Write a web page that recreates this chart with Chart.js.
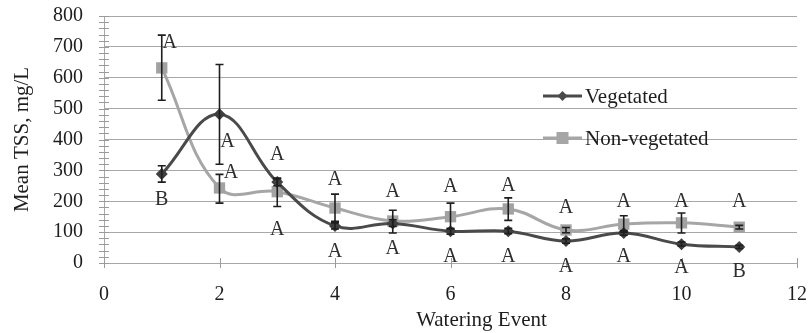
<!DOCTYPE html>
<html>
<head>
<meta charset="utf-8">
<script src="https://cdn.jsdelivr.net/npm/chart.js@4/dist/chart.umd.min.js"></script>
<style>
  html, body { margin: 0; padding: 0; background: #ffffff; }
  #wrap { width: 809px; height: 333px; position: relative; }
</style>
</head>
<body>
<div id="wrap"><canvas id="c" width="809" height="333"></canvas></div>
<script>
// ---- data ----
const events = [1, 2, 3, 4, 5, 6, 7, 8, 9, 10, 11];
const vegetated = [288, 482, 262, 120, 128, 103, 103, 71, 97, 61, 52];
const vegLow    = [262, 320, 250, 110, 118, 93, 95, 64, 90, 55, 47];
const vegHigh   = [315, 643, 272, 130, 140, 112, 112, 78, 105, 68, 57];
const nonVegetated = [632, 243, 231, 178, 136, 150, 175, 107, 126, 130, 116];
const nonLow    = [527, 194, 183, 135, 97, 110, 138, 98, 100, 97, 110];
const nonHigh   = [738, 287, 275, 223, 171, 194, 211, 115, 153, 162, 122];
const yTickValues = [0, 100, 200, 300, 400, 500, 600, 700, 800];
const xTickValues = [0, 2, 4, 6, 8, 10, 12];
const letterX = [1.14, 1, 2.14, 2.2, 3, 3, 4, 4, 5, 5, 6, 6, 7, 7, 8, 8, 9, 9, 10, 10, 11, 11];
const letterY = [712, 204, 392, 291, 349, 107, 271, 37, 231, 45, 246, 20, 249, 20, 178, -12, 197, 20, 197, -16, 197, -28];
const letterText = ['A','B','A','A','A','A','A','A','A','A','A','A','A','A','A','A','A','A','A','A','A','B'];
const seriesNames = ['Vegetated', 'Non-vegetated'];
const xTitle = 'Watering Event';
const yTitle = 'Mean TSS, mg/L';

const SERIF = "'Liberation Serif', 'Times New Roman', serif";
const VEG_COLOR = '#4a4a4a';
const NON_COLOR = '#a6a6a6';
const GRID = '#a8a8a8';

function zeroPadding(scale) {
  scale.paddingLeft = 0; scale.paddingRight = 0;
  scale.paddingTop = 0; scale.paddingBottom = 0;
}

const errorBars = {
  id: 'errorBars',
  afterDatasetsDraw(chart) {
    const ctx = chart.ctx;
    const xs = chart.scales.x, ys = chart.scales.y;
    const sets = [[vegLow, vegHigh], [nonLow, nonHigh]];
    ctx.save();
    ctx.strokeStyle = '#1e1e1e';
    ctx.lineWidth = 1.6;
    sets.forEach(([lo, hi]) => {
      events.forEach((e, i) => {
        const px = xs.getPixelForValue(e);
        const y1 = ys.getPixelForValue(lo[i]);
        const y2 = ys.getPixelForValue(hi[i]);
        ctx.beginPath();
        ctx.moveTo(px, y1); ctx.lineTo(px, y2);
        ctx.moveTo(px - 4, y1); ctx.lineTo(px + 4, y1);
        ctx.moveTo(px - 4, y2); ctx.lineTo(px + 4, y2);
        ctx.stroke();
      });
    });
    ctx.restore();
  }
};

const extras = {
  id: 'extras',
  afterDraw(chart) {
    const ctx = chart.ctx;
    const xs = chart.scales.x, ys = chart.scales.y;
    const area = chart.chartArea;
    ctx.save();
    // axis tick marks (major + minor)
    ctx.strokeStyle = '#9a9a9a';
    ctx.lineWidth = 1;
    ctx.beginPath();
    for (let v = 0; v <= 800; v += 20) {
      const py = Math.round(ys.getPixelForValue(v)) + 0.5;
      ctx.moveTo(area.left - 5, py); ctx.lineTo(area.left + 5, py);
    }
    xTickValues.forEach(v => {
      const px = Math.round(xs.getPixelForValue(v)) + 0.5;
      ctx.moveTo(px, area.bottom - 5); ctx.lineTo(px, area.bottom + 5);
    });
    ctx.stroke();
    // significance letters
    ctx.fillStyle = '#2e2e2e';
    ctx.font = '20px ' + SERIF;
    ctx.textAlign = 'center';
    ctx.textBaseline = 'middle';
    letterText.forEach((t, i) => {
      ctx.fillText(t, xs.getPixelForValue(letterX[i]), ys.getPixelForValue(letterY[i]));
    });
    // legend
    const items = [
      { name: seriesNames[0], color: VEG_COLOR, style: 'diamond' },
      { name: seriesNames[1], color: NON_COLOR, style: 'square' }
    ];
    const lx = area.left + 439, ly0 = area.top + 80, gap = 42;
    items.forEach((it, i) => {
      const y = ly0 + i * gap;
      ctx.strokeStyle = it.color;
      ctx.lineWidth = 3;
      ctx.beginPath(); ctx.moveTo(lx, y); ctx.lineTo(lx + 39, y); ctx.stroke();
      ctx.fillStyle = it.color;
      const cx = lx + 19.5;
      if (it.style === 'diamond') {
        ctx.beginPath();
        ctx.moveTo(cx, y - 5); ctx.lineTo(cx + 5, y); ctx.lineTo(cx, y + 5); ctx.lineTo(cx - 5, y);
        ctx.closePath(); ctx.fill();
      } else {
        ctx.fillRect(cx - 6, y - 6, 12, 12);
      }
      ctx.fillStyle = '#1e1e1e';
      ctx.font = '21px ' + SERIF;
      ctx.textAlign = 'left';
      ctx.fillText(it.name, lx + 42, y + 1);
    });
    // x axis title
    ctx.font = '21px ' + SERIF;
    ctx.textAlign = 'center';
    ctx.fillStyle = '#1e1e1e';
    ctx.fillText(xTitle, (area.left + area.right) / 2 + 31, area.bottom + 57);
    ctx.restore();
  }
};

new Chart(document.getElementById('c'), {
  type: 'scatter',
  data: {
    datasets: [
      {
        label: seriesNames[0],
        data: events.map((e, i) => ({ x: e, y: vegetated[i] })),
        showLine: true,
        tension: 0.4,
        borderColor: VEG_COLOR,
        backgroundColor: VEG_COLOR,
        borderWidth: 3,
        pointStyle: 'rectRot',
        pointRadius: 6,
        pointBorderWidth: 0,
        pointBackgroundColor: '#3f3f3f'
      },
      {
        label: seriesNames[1],
        data: events.map((e, i) => ({ x: e, y: nonVegetated[i] })),
        showLine: true,
        tension: 0.4,
        borderColor: NON_COLOR,
        backgroundColor: NON_COLOR,
        borderWidth: 3,
        pointStyle: 'rect',
        pointRadius: 8,
        pointBorderWidth: 0,
        pointBackgroundColor: '#a2a2a2'
      }
    ]
  },
  options: {
    responsive: false,
    animation: false,
    layout: { autoPadding: false, padding: { left: 0, right: 12, top: 16, bottom: 0 } },
    plugins: { legend: { display: false }, tooltip: { enabled: false } },
    scales: {
      x: {
        type: 'linear',
        min: 0, max: 12,
        afterBuildTicks(scale) { scale.ticks = xTickValues.map(v => ({ value: v })); },
        afterFit(scale) { scale.height = 70; zeroPadding(scale); },
        grid: { display: false, drawTicks: false },
        border: { display: true, color: GRID, width: 1 },
        ticks: { padding: 20, color: '#1e1e1e', font: { family: SERIF, size: 20 } }
      },
      y: {
        min: 0, max: 800,
        afterBuildTicks(scale) { scale.ticks = yTickValues.map(v => ({ value: v })); },
        afterFit(scale) { scale.width = 104; zeroPadding(scale); },
        grid: { color: GRID, lineWidth: 1, drawTicks: false },
        border: { display: true, color: GRID, width: 1 },
        ticks: { padding: 21, color: '#1e1e1e', font: { family: SERIF, size: 20 } },
        title: {
          display: true, text: yTitle, color: '#1e1e1e',
          font: { family: SERIF, size: 21 },
          padding: { top: 10, bottom: 0 }
        }
      }
    }
  },
  plugins: [errorBars, extras]
});
</script>
</body>
</html>
